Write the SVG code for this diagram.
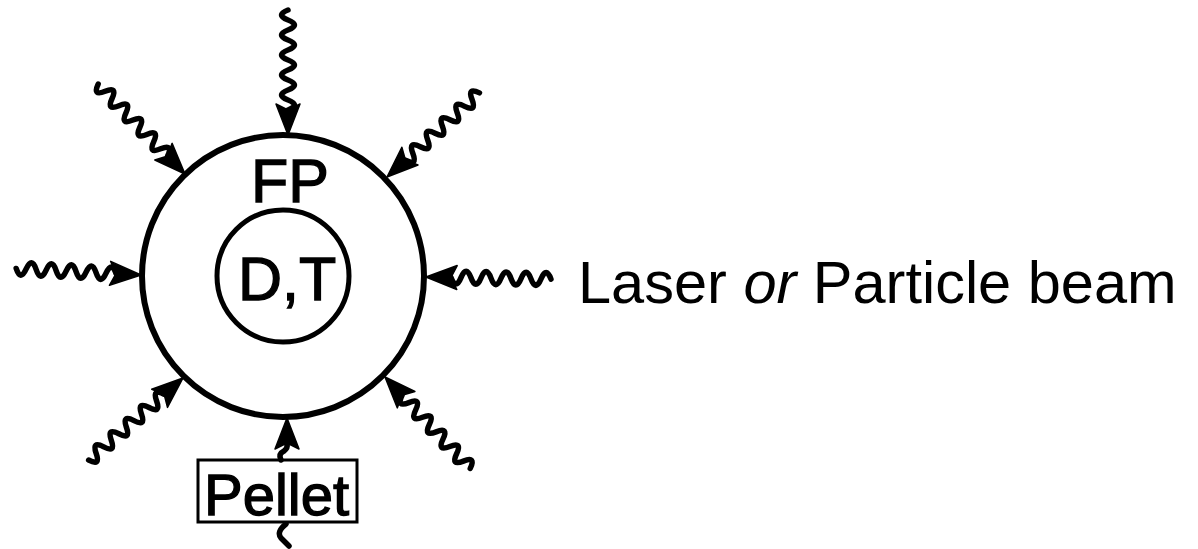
<svg xmlns="http://www.w3.org/2000/svg" width="1198" height="549" viewBox="0 0 1198 549">
<style>
.ring{fill:none;stroke:#000;stroke-width:6}
.core{fill:none;stroke:#000;stroke-width:5}
.wave{fill:none;stroke:#000;stroke-width:5.5;stroke-linecap:round;stroke-linejoin:round}
.head{fill:#000;stroke:#000;stroke-width:1.5;stroke-linejoin:round}
.lbl{font-family:"Liberation Sans",Arial,sans-serif;fill:#000}
.bold{stroke:#000;stroke-width:1.3}
.box{fill:none;stroke:#000;stroke-width:3}
</style>
<defs>
<g id="ray">
<path class="wave" d="M-25 0 q-5 -13 -10 0 t-10 0 t-10 0 t-10 0 t-10 0 t-10 0 t-10 0 t-10 0 t-10 0 t-10 0"/>
<polygon class="head" points="0,0 -31,-12 -25,0 -31,12"/>
</g>
</defs>
<rect width="1198" height="549" fill="#fff"/>
<g id="fuel-pellet">
<circle class="ring" cx="283" cy="276" r="141"/>
<text class="lbl bold" x="251" y="202" font-size="61">FP</text>
</g>
<g id="dt-core">
<circle class="core" cx="283" cy="276" r="66"/>
<text class="lbl bold" x="238" y="300" font-size="61">D,T</text>
</g>
<g id="pellet">
<rect class="box" x="198" y="460" width="159" height="62"/>
<text class="lbl bold" x="204" y="515" font-size="58">Pellet</text>
</g>
<g id="label">
<text class="lbl" x="578" y="303" font-size="59.5">Laser <tspan font-style="italic">or</tspan> Particle beam</text>
</g>
<g id="connectors">
<use href="#ray" transform="translate(288 135) rotate(90)"/>
<use href="#ray" transform="translate(185 174) rotate(46)"/>
<use href="#ray" transform="translate(387 177) rotate(137.7)"/>
<use href="#ray" transform="translate(141 275) rotate(3)"/>
<use href="#ray" transform="translate(426 277) rotate(181)"/>
<use href="#ray" transform="translate(183 378) rotate(-41)"/>
<use href="#ray" transform="translate(385 377) rotate(-133)"/>
<g transform="translate(287 418) rotate(-90)">
<polygon class="head" points="0,0 -31,-12 -25,0 -31,12"/>
</g>
<path class="wave" d="M281 460 q-3 -6 3 -9 q4 -3 3 -7"/>
<path class="wave" d="M286 524 Q276 532 281 538 L289 546"/>
</g>
</svg>
